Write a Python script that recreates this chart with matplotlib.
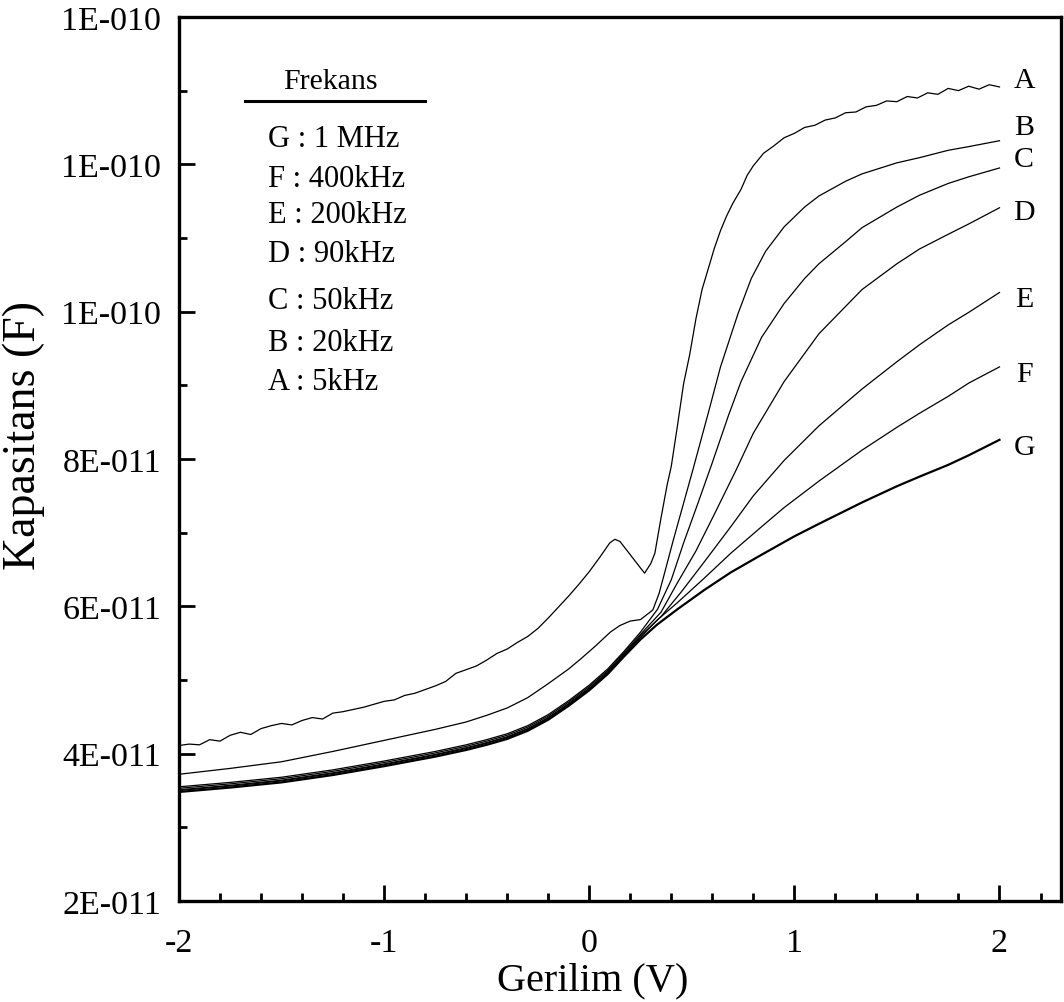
import matplotlib
matplotlib.use("Agg")
import matplotlib.pyplot as plt
from matplotlib.ticker import MultipleLocator

plt.rcParams['font.family'] = ['Liberation Serif', 'DejaVu Serif']

# Gerilim (V) / Kapasitans (x1e-11 F)
a_v = [-2.00, -1.95, -1.90, -1.85, -1.80, -1.75, -1.70, -1.65, -1.60, -1.55, -1.50, -1.45,
       -1.40, -1.35, -1.30, -1.25, -1.20, -1.15, -1.10, -1.05, -1.00, -0.95, -0.90, -0.85,
       -0.80, -0.75, -0.70, -0.65, -0.60, -0.55, -0.50, -0.45, -0.40, -0.35, -0.30, -0.25,
       -0.20, -0.15, -0.10, -0.05, 0.00, 0.05, 0.10, 0.125, 0.15, 0.20, 0.25, 0.27, 0.30,
       0.32, 0.35, 0.38, 0.40, 0.43, 0.46, 0.49, 0.52, 0.55, 0.58, 0.61, 0.64, 0.67, 0.70,
       0.74, 0.77, 0.80, 0.85, 0.90, 0.95, 1.00, 1.05, 1.10, 1.15, 1.20, 1.25, 1.30, 1.35,
       1.40, 1.45, 1.50, 1.55, 1.60, 1.65, 1.70, 1.75, 1.80, 1.85, 1.90, 1.95, 2.00]
a_c = [4.11, 4.13, 4.12, 4.19, 4.17, 4.25, 4.29, 4.26, 4.34, 4.38, 4.41, 4.39,
       4.45, 4.49, 4.47, 4.55, 4.57, 4.60, 4.63, 4.67, 4.71, 4.73, 4.79, 4.82,
       4.87, 4.92, 4.98, 5.09, 5.14, 5.19, 5.27, 5.36, 5.42, 5.51, 5.59, 5.70,
       5.84, 5.99, 6.14, 6.30, 6.47, 6.66, 6.86, 6.91, 6.88, 6.70, 6.52, 6.45, 6.58,
       6.72, 7.20, 7.65, 7.90, 8.45, 9.02, 9.42, 9.90, 10.30, 10.58, 10.86, 11.10, 11.30, 11.47,
       11.66, 11.85, 11.98, 12.15, 12.25, 12.36, 12.42, 12.50, 12.53, 12.60, 12.63, 12.70, 12.71, 12.78,
       12.80, 12.86, 12.85, 12.92, 12.90, 12.97, 12.95, 13.03, 13.00, 13.06, 13.02, 13.08, 13.05]

b_v = [-2.0, -1.75, -1.5, -1.25, -1.0, -0.75, -0.6, -0.5, -0.4, -0.3, -0.2, -0.1, -0.044,
       0.03, 0.103, 0.15, 0.2, 0.25, 0.31, 0.34, 0.37, 0.41, 0.46, 0.505, 0.58, 0.64, 0.725,
       0.79, 0.86, 0.95, 1.05, 1.12, 1.25, 1.33, 1.5, 1.61, 1.75, 1.85, 2.0]
b_c = [3.72, 3.80, 3.89, 4.03, 4.18, 4.33, 4.43, 4.52, 4.62, 4.76, 4.95, 5.15, 5.28,
       5.46, 5.65, 5.74, 5.80, 5.82, 5.95, 6.17, 6.48, 6.90, 7.40, 7.85, 8.62, 9.25, 9.97,
       10.45, 10.82, 11.15, 11.42, 11.57, 11.77, 11.87, 12.02, 12.09, 12.19, 12.24, 12.32]

low_v = [-2.0, -1.75, -1.5, -1.25, -1.0, -0.75, -0.6, -0.5, -0.4, -0.3, -0.2, -0.1, 0.0,
         0.09, 0.17, 0.25]

c_v = low_v + [0.333, 0.40, 0.46, 0.53, 0.60, 0.68, 0.74, 0.84, 0.95, 1.05, 1.12, 1.25,
               1.33, 1.5, 1.61, 1.75, 1.85, 2.0]
c_c = [3.55, 3.61, 3.68, 3.78, 3.90, 4.03, 4.12, 4.19, 4.27, 4.38, 4.53, 4.72, 4.93,
       5.15, 5.39, 5.65,
       5.96, 6.36, 6.86, 7.40, 7.95, 8.60, 9.05, 9.65, 10.11, 10.45, 10.65, 10.95,
       11.14, 11.42, 11.58, 11.74, 11.83, 11.95]

d_v = low_v + [0.35, 0.43, 0.52, 0.61, 0.716, 0.80, 0.95, 1.12, 1.33, 1.5, 1.61, 1.75,
               1.85, 2.0]
d_c = [3.53, 3.59, 3.66, 3.76, 3.88, 4.01, 4.10, 4.17, 4.25, 4.36, 4.51, 4.70, 4.91,
       5.13, 5.37, 5.62,
       5.92, 6.32, 6.75, 7.25, 7.85, 8.35, 9.05, 9.70, 10.30, 10.65, 10.85, 11.05, 11.19, 11.41]

e_v = low_v + [0.35, 0.45, 0.56, 0.69, 0.80, 0.95, 1.12, 1.33, 1.5, 1.61, 1.75, 1.85, 2.0]
e_c = [3.51, 3.57, 3.64, 3.74, 3.86, 3.99, 4.08, 4.15, 4.23, 4.34, 4.49, 4.68, 4.89,
       5.11, 5.35, 5.60,
       5.86, 6.20, 6.60, 7.08, 7.50, 7.98, 8.45, 8.95, 9.32, 9.55, 9.82, 9.99, 10.26]

f_v = low_v + [0.33, 0.43, 0.56, 0.69, 0.84, 0.95, 1.12, 1.33, 1.5, 1.61, 1.75, 1.85, 2.0]
f_c = [3.50, 3.56, 3.63, 3.73, 3.85, 3.98, 4.07, 4.14, 4.22, 4.33, 4.48, 4.67, 4.88,
       5.10, 5.34, 5.58,
       5.81, 6.05, 6.38, 6.72, 7.08, 7.34, 7.70, 8.12, 8.43, 8.62, 8.85, 9.03, 9.25]

g_v = low_v + [0.33, 0.43, 0.56, 0.69, 0.84, 1.0, 1.12, 1.33, 1.5, 1.61, 1.75, 1.85, 2.0]
g_c = [3.48, 3.54, 3.61, 3.71, 3.83, 3.96, 4.05, 4.12, 4.20, 4.31, 4.46, 4.65, 4.86,
       5.08, 5.32, 5.55,
       5.75, 5.96, 6.22, 6.46, 6.70, 6.95, 7.12, 7.41, 7.63, 7.76, 7.92, 8.05, 8.26]

curve_names = ['A', 'B', 'C', 'D', 'E', 'F', 'G']
curve_v = [a_v, b_v, c_v, d_v, e_v, f_v, g_v]
curve_c = [a_c, b_c, c_c, d_c, e_c, f_c, g_c]
label_c = [13.15, 12.50, 12.07, 11.35, 10.17, 9.15, 8.16]

legend_lines = ['G : 1 MHz', 'F : 400kHz', 'E : 200kHz', 'D : 90kHz',
                'C : 50kHz', 'B : 20kHz', 'A : 5kHz']
legend_y = [0.862, 0.817, 0.777, 0.732, 0.679, 0.632, 0.588]

x_ticks = [-2, -1, 0, 1, 2]
y_ticks = [2e-11, 4e-11, 6e-11, 8e-11, 1.0e-10, 1.2e-10, 1.4e-10]
y_tick_labels = ['2E-011', '4E-011', '6E-011', '8E-011', '1E-010', '1E-010', '1E-010']

fig = plt.figure(figsize=(10.64, 10.03), dpi=100)
ax = fig.add_axes([0.1682, 0.1007, 0.829, 0.8814])

for name, v, c in zip(curve_names, curve_v, curve_c):
    lw = 1.6 if name == 'G' else 0.9
    ax.plot(v, [x * 1e-11 for x in c], color='black', lw=lw)

for name, yc in zip(curve_names, label_c):
    ax.text(2.12, yc * 1e-11, name, fontsize=21.5, ha='center', va='center')

ax.text(0.172, 0.928, 'Frekans', transform=ax.transAxes, fontsize=21.5,
        ha='center', va='center')
ax.plot([0.075, 0.279], [0.905, 0.905], transform=ax.transAxes, color='black', lw=2.2)
for txt, yy in zip(legend_lines, legend_y):
    ax.text(0.101, yy, txt, transform=ax.transAxes, fontsize=22, ha='left', va='center')

ax.set_xlim(-2, 2.3)
ax.set_ylim(2e-11, 1.4e-10)
ax.set_xticks(x_ticks)
ax.set_xticklabels([str(t) for t in x_ticks])
ax.set_yticks(y_ticks)
ax.set_yticklabels(y_tick_labels)
ax.xaxis.set_minor_locator(MultipleLocator(0.2))
ax.yaxis.set_minor_locator(MultipleLocator(1e-11))
ax.tick_params(which='both', direction='in', top=False, right=False, width=2,
               labelsize=24.5)
ax.tick_params(axis='x', which='major', length=11.5, pad=19)
ax.tick_params(axis='y', which='major', length=11.5, pad=13)
ax.tick_params(which='minor', length=5.8)
for s in ax.spines.values():
    s.set_linewidth(2.4)

ax.set_xlabel('Gerilim (V)', fontsize=29)
ax.set_ylabel('Kapasitans (F)', fontsize=33)
ax.xaxis.set_label_coords(0.469, -0.068)
ax.yaxis.set_label_coords(-0.152, 0.528)

fig.savefig('out.png', dpi=100)
